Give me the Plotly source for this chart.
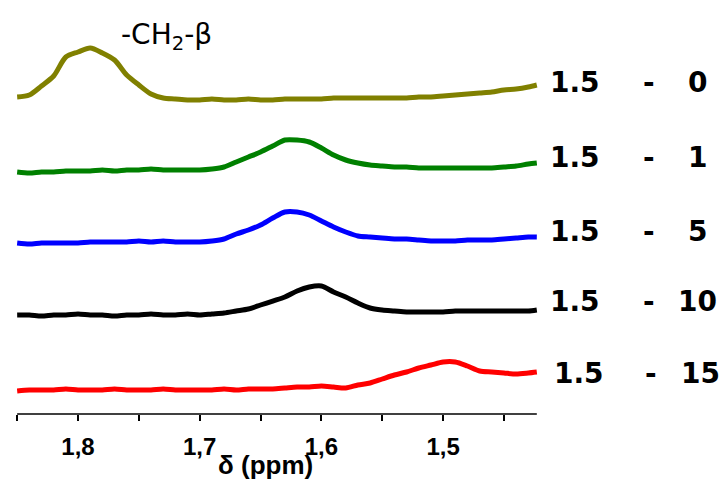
import plotly.graph_objects as go

# chemical shift grid (ppm)
ppm = [1.85, 1.84, 1.83, 1.82, 1.81, 1.80, 1.79, 1.78, 1.77, 1.76, 1.75, 1.74, 1.73, 1.72,
       1.71, 1.70, 1.69, 1.68, 1.67, 1.66, 1.65, 1.64, 1.63, 1.62, 1.61, 1.60, 1.59, 1.58,
       1.57, 1.56, 1.55, 1.54, 1.53, 1.52, 1.51, 1.50, 1.49, 1.48, 1.47, 1.46, 1.45, 1.44,
       1.43, 1.423]

# intensities (a.u.)
olive_0 = [3, 5, 14, 24, 43, 48, 52, 47, 40, 25, 15, 6, 2, 1, 0, 0, 1, 0, 0, 1, 0, 0, 1, 1,
           1, 1, 2, 2, 2, 2, 2, 2, 2, 3, 3, 4, 5, 6, 7, 8, 10, 11, 13, 15]
green_1 = [-2, -3, -2, -2, -1, -1, -1, 0, -1, 0, 0, 1, 0, 0, 0, 0, 1, 3, 8, 13, 18, 24, 30, 30,
           28, 22, 15, 10, 7, 5, 4, 3, 3, 2, 2, 2, 2, 2, 2, 2, 3, 4, 6, 7]
blue_5 = [-1, -2, -1, -1, -1, -1, 0, 0, 0, 0, 1, 0, 1, 0, 0, 0, 1, 3, 8, 12, 17, 24, 30, 30,
          27, 21, 15, 10, 6, 5, 4, 3, 3, 2, 1, 1, 1, 2, 2, 2, 3, 4, 5, 5]
black_10 = [0, 0, -1, 0, 0, 1, 0, 0, -1, 0, 0, 1, 0, 0, 1, 0, 1, 2, 4, 6, 10, 14, 18, 24,
            28, 29, 23, 18, 12, 7, 5, 4, 3, 3, 3, 3, 4, 4, 4, 4, 4, 4, 4, 5]
red_15 = [-1, 0, 0, 0, 1, 0, 0, 0, 1, 0, 0, 0, 1, 0, 0, 0, 0, 1, 0, 1, 1, 1, 2, 3,
          3, 4, 3, 2, 5, 7, 11, 15, 18, 22, 25, 28, 28, 24, 19, 18, 17, 16, 17, 18]

series = [olive_0, green_1, blue_5, black_10, red_15]
offsets = [314, 244, 172, 99, 24]
colors = ["#808000", "#008000", "#0000FF", "#000000", "#FF0000"]
ratio_labels = ["0", "1", "5", "10", "15"]

tick_vals = [1.8, 1.7, 1.6, 1.5]
tick_text = ["1,8", "1,7", "1,6", "1,5"]
minor_vals = [1.85, 1.75, 1.65, 1.55, 1.45]

W, H = 724, 482
plot_h = 414

fig = go.Figure()
for vals, off, col in zip(series, offsets, colors):
    fig.add_trace(go.Scatter(x=ppm, y=[v + off for v in vals], mode="lines",
                             line=dict(color=col, width=5, shape="spline", smoothing=0.8),
                             showlegend=False, hoverinfo="skip"))

fig.update_layout(
    width=W, height=H,
    margin=dict(l=0, r=0, t=0, b=H - plot_h),
    paper_bgcolor="white", plot_bgcolor="white",
    xaxis=dict(range=[1.8641, 1.2692], showgrid=False, zeroline=False, showline=False,
               tickmode="array", tickvals=tick_vals, ticktext=tick_text,
               ticks="outside", ticklen=6, tickwidth=1.5, tickcolor="black",
               tickfont=dict(family="Liberation Sans", size=24, color="black", weight="bold"),
               ticklabelstandoff=5,
               minor=dict(tickmode="array", tickvals=minor_vals, ticks="outside",
                          ticklen=6, tickwidth=1.5, tickcolor="black")),
    yaxis=dict(range=[0, plot_h], visible=False),
)

# axis line spanning the spectral window
fig.add_shape(type="line", xref="x", yref="paper", x0=ppm[0], x1=ppm[-1], y0=0, y1=0,
              line=dict(color="black", width=1.5))

fig.add_annotation(text="δ (ppm)", xref="paper", yref="paper", x=265 / W,
                   y=(plot_h - 465) / plot_h, showarrow=False, xanchor="center",
                   yanchor="middle",
                   font=dict(family="Liberation Sans", size=26, color="black", weight="bold"))

fig.add_annotation(text="-CH<sub>2</sub>-β", xref="paper", yref="paper", x=119 / W,
                   y=(plot_h - 36) / plot_h, showarrow=False, xanchor="left",
                   yanchor="middle",
                   font=dict(family="DejaVu Sans", size=28, color="black"))

row_y = [82.5, 157.5, 231.5, 301.5, 373.5]
for i, (ry, lab) in enumerate(zip(row_y, ratio_labels)):
    yp = (plot_h - ry) / plot_h
    f = dict(family="DejaVu Sans", size=28, color="black", weight="bold")
    fig.add_annotation(text="1.5", xref="paper", yref="paper", x=(548 if i < 4 else 552) / W,
                       y=yp, showarrow=False, xanchor="left", yanchor="middle", font=f)
    fig.add_annotation(text="-", xref="paper", yref="paper", x=(649 if i < 4 else 651) / W,
                       y=yp, showarrow=False, xanchor="center", yanchor="middle", font=f)
    fig.add_annotation(text=lab, xref="paper", yref="paper", x=(697 if i < 4 else 700) / W,
                       y=yp, showarrow=False, xanchor="center", yanchor="middle", font=f)

fig.write_html("out.html", config={"displayModeBar": False},
               post_script="document.body.style.margin='0';document.body.style.overflow='hidden';")
